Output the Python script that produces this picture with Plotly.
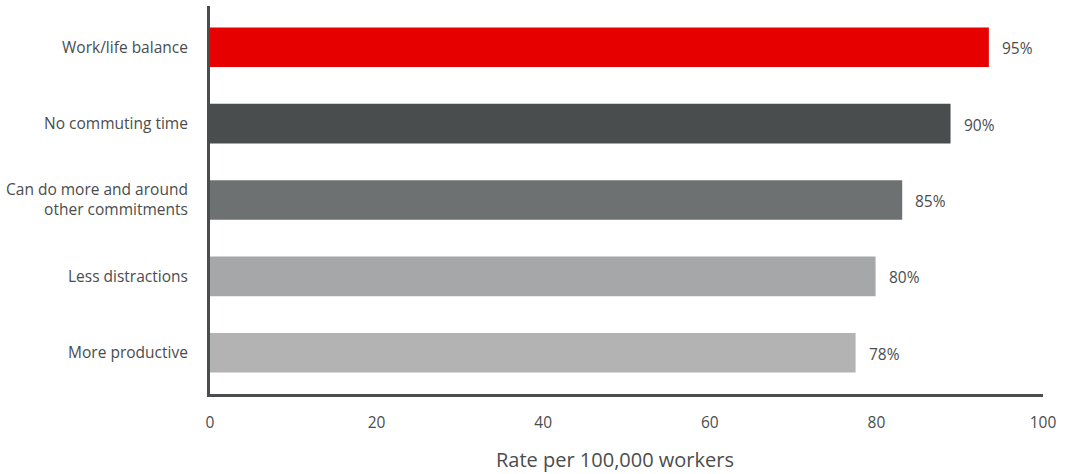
import plotly.graph_objects as go

categories = ["Work/life balance", "No commuting time",
              "Can do more and around<br>other commitments",
              "Less distractions", "More productive"]
values = [93.5, 88.9, 83.1, 79.9, 77.5]
value_labels = ["95%", "90%", "85%", "80%", "78%"]
colors = ["#e60000", "#4a4d4e", "#6e7171", "#a6a7a8", "#b3b3b3"]
x_ticks = [0, 20, 40, 60, 80, 100]
x_title = "Rate per 100,000 workers"

text_color = "#4a4d4e"
font_family = "Open Sans, Noto Sans, sans-serif"

fig = go.Figure()
fig.add_trace(go.Bar(
    y=categories, x=values, orientation="h",
    marker=dict(color=colors, line=dict(width=0)),
    width=0.52, hoverinfo="skip",
))

for c, v, t in zip(categories, values, value_labels):
    fig.add_annotation(x=v, y=c, text=t, showarrow=False, xanchor="left",
                       xshift=11, yshift=-1,
                       font=dict(size=15.5, color=text_color, family=font_family))

fig.add_annotation(text=x_title, xref="paper", yref="paper", x=0.5, y=0,
                   xanchor="center", yanchor="top", xshift=-12, yshift=-50,
                   showarrow=False, font=dict(size=20, color=text_color, family=font_family))

fig.update_layout(
    width=1072, height=474,
    margin=dict(l=208, r=29, t=6, b=80),
    plot_bgcolor="white", paper_bgcolor="white",
    showlegend=False,
    font=dict(family=font_family, size=15.5, color=text_color),
    xaxis=dict(
        range=[0, 100], tickvals=x_ticks, showgrid=False, zeroline=False,
        showline=True, linewidth=3, linecolor="#4a4d4e",
        ticks="outside", ticklen=12, tickcolor="white",
        tickfont=dict(size=15.5, color=text_color),
    ),
    yaxis=dict(
        categoryorder="array", categoryarray=categories, autorange=False,
        range=[4.54, -0.54], showgrid=False, zeroline=False,
        showline=True, linewidth=3, linecolor="#4a4d4e",
        ticks="outside", ticklen=16, tickcolor="white",
        tickfont=dict(size=15.5, color=text_color),
    ),
)

fig.write_html("out.html")
